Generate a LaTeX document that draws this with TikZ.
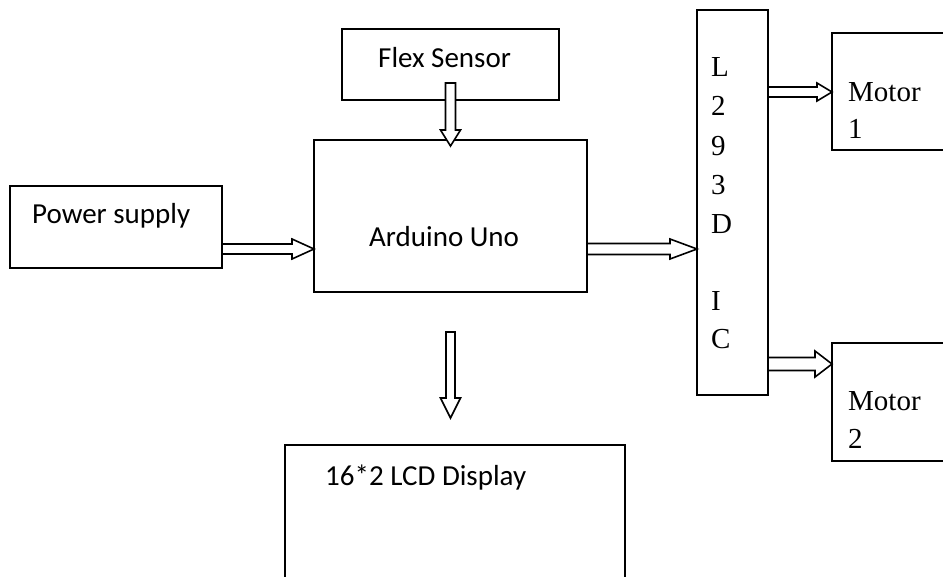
\documentclass[tikz,border=0pt]{standalone}
\usepackage{fontspec}
\setmainfont{Liberation Serif}
\newfontfamily\calfont{Carlito}
\usetikzlibrary{calc}
\newcommand{\rarrow}[5]{% tail, tip, head length, shaft half, head half
  \draw[arr] let \p1=(#1), \p2=(#2) in
    (\x1,\y2+#4) -- (\x2-#3,\y2+#4) -- (\x2-#3,\y2+#5) -- (\x2,\y2)
    -- (\x2-#3,\y2-#5) -- (\x2-#3,\y2-#4) -- (\x1,\y2-#4) -- cycle;}
\newcommand{\darrow}[5]{% tail, tip, head length, shaft half, head half
  \draw[arr] let \p1=(#1), \p2=(#2) in
    (\x1-#4,\y1) -- (\x1-#4,\y2+#3) -- (\x1-#5,\y2+#3) -- (\x1,\y2)
    -- (\x1+#5,\y2+#3) -- (\x1+#4,\y2+#3) -- (\x1+#4,\y1) -- cycle;}
\begin{document}
\begin{tikzpicture}[x=1pt,y=-1pt,
  box/.style={draw, line width=1.7pt, rectangle, inner sep=0pt, outer sep=0pt, anchor=north west},
  arr/.style={draw, line width=1.6pt, fill=white, line join=miter},
  sans/.style={font=\calfont\fontsize{29}{35}\selectfont, anchor=base west, inner sep=0pt},
  serif/.style={font=\fontsize{29}{35}\selectfont, anchor=base west, inner sep=0pt}]
\clip (0,0) rectangle (943,576);
\fill[white] (0,0) rectangle (943,576);
% boxes
\node[box, minimum width=217pt, minimum height=71pt] (flex) at (342,29) {};
\node[box, minimum width=273pt, minimum height=152pt] (ard) at (314,140) {};
\node[box, minimum width=212pt, minimum height=82pt] (ps) at (10,186) {};
\node[box, minimum width=71pt, minimum height=385pt] (ic) at (697,10) {};
\node[box, minimum width=140pt, minimum height=117pt] (m1) at (832,33) {};
\node[box, minimum width=140pt, minimum height=118pt] (m2) at (832,343) {};
\node[box, minimum width=340pt, minimum height=160pt] (lcd) at (285,445) {};
% labels
\node[sans] (tflex) at (378,67) {Flex Sensor};
\node[sans] (tps) at (32,223) {Power supply};
\node[sans] (tard) at (369,246) {Arduino Uno};
\node[sans] (tlcd) at (325,485) {16*2 LCD Display};
\node[serif] (tm1a) at (848,101) {Motor};
\node[serif] (tm1b) at (848,138) {1};
\node[serif] (tm2a) at (848,410) {Motor};
\node[serif] (tm2b) at (848,448) {2};
\node[serif] (ic1) at (711,76) {L};
\node[serif] (ic2) at (711,115) {2};
\node[serif] (ic3) at (711,155) {9};
\node[serif] (ic4) at (711,194) {3};
\node[serif] (ic5) at (711,233) {D};
\node[serif] (ic6) at (711,310) {I};
\node[serif] (ic7) at (711,348) {C};
% connector end points
\coordinate (psout) at ($(ps.south east)+(0,-19)$);
\coordinate (ardin) at (ard.west |- psout);
\coordinate (ardout) at (ard.east |- psout);
\coordinate (icin) at (ic.west |- psout);
\coordinate (m1in) at ($(m1.north west)+(0,59)$);
\coordinate (ic1out) at (ic.east |- m1in);
\coordinate (m2in) at ($(m2.north west)+(0,21)$);
\coordinate (ic2out) at (ic.east |- m2in);
\coordinate (flexout) at ($(flex.south)+(0,-17)$);
\coordinate (flexin) at ($(flex.south |- ard.north)+(0,6)$);
\coordinate (lcdtail) at (450.5,332);
\coordinate (lcdtip) at (450.5,418);
% block arrows
\rarrow{psout}{ardin}{22pt}{5pt}{10pt}
\rarrow{ardout}{icin}{27pt}{5.5pt}{10pt}
\rarrow{ic1out}{m1in}{15pt}{5pt}{9pt}
\rarrow{ic2out}{m2in}{17pt}{6.5pt}{13pt}
\darrow{flexout}{flexin}{16pt}{5pt}{10pt}
\darrow{lcdtail}{lcdtip}{20pt}{4.5pt}{10pt}
\end{tikzpicture}
\end{document}
